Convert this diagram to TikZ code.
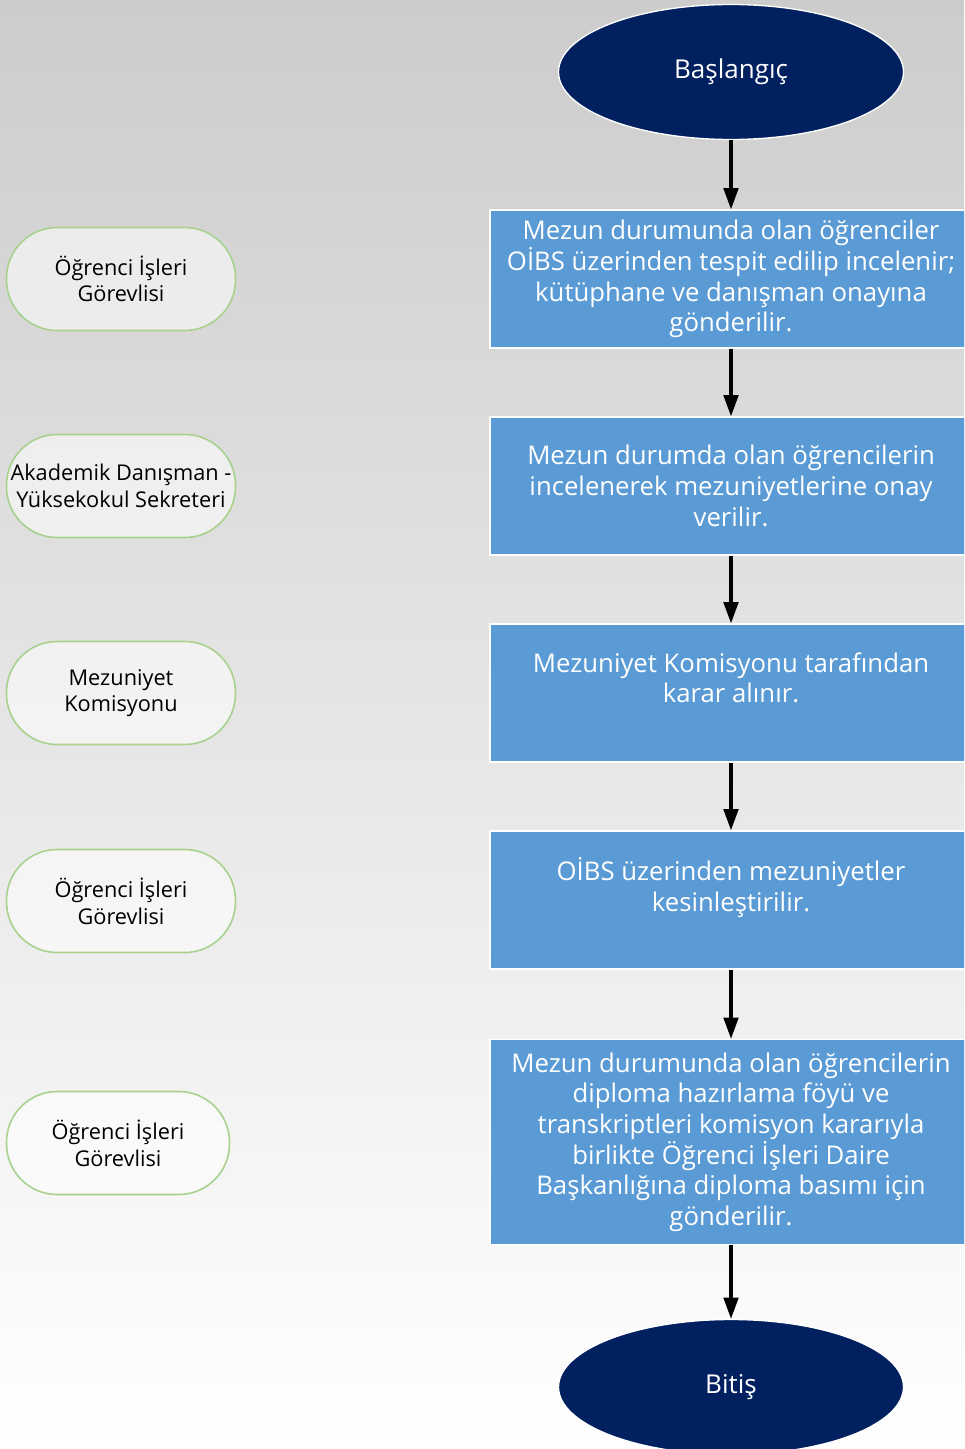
\documentclass[tikz,border=0pt]{standalone}
\usepackage{fontspec}
\setmainfont{Open Sans}
\usetikzlibrary{shapes.geometric, arrows.meta, positioning}
\definecolor{lacivert}{RGB}{0,32,96}
\definecolor{mavi}{RGB}{91,155,213}
\definecolor{yesil}{RGB}{169,209,142}
\definecolor{gri}{RGB}{204,204,204}

\begin{document}
\begin{tikzpicture}[x=0.75pt, y=-0.75pt,
  terminal/.style = {shape=ellipse, draw=white, line width=1pt,
    fill=lacivert, text=white, font=\fontsize{19.5}{23}\selectfont,
    minimum width=258.75pt, minimum height=101.25pt},
  islem/.style = {shape=rectangle, draw=white, line width=1pt,
    fill=mavi, text=white, align=center,
    font=\fontsize{19.3}{23}\selectfont,
    minimum width=361.5pt, minimum height=103.5pt, inner sep=0pt},
  rol/.style = {shape=rectangle, rounded corners=38pt, draw=yesil,
    line width=1.2pt, fill=white, fill opacity=0.55, text opacity=1,
    align=center, font=\fontsize{16.3}{20}\selectfont,
    minimum width=171.75pt, minimum height=77.25pt, inner sep=0pt},
  ok/.style = {line width=2.3pt, -{Triangle[length=16pt, width=11pt]}}]
  \useasboundingbox (0,0) rectangle (964,1449);
  \clip (0,0) rectangle (964,1449);
  \shade[top color=gri, bottom color=white] (0,0) rectangle (964,1449);

  % akis
  \node[terminal] (basla) at (731,72) {Başlangıç};
  \node[islem] (adim1) at (731,279) {Mezun durumunda olan öğrenciler\\
    OİBS üzerinden tespit edilip incelenir;\\
    kütüphane ve danışman onayına\\ gönderilir.};
  \node[islem] (adim2) at (731,486) {Mezun durumda olan öğrencilerin\\
    incelenerek mezuniyetlerine onay\\ verilir.};
  \node[islem] (adim3) at (731,693) {Mezuniyet Komisyonu tarafından\\
    karar alınır.\\ \mbox{}};
  \node[islem] (adim4) at (731,900) {OİBS üzerinden mezuniyetler\\
    kesinleştirilir.\\ \mbox{}};
  \node[islem, minimum height=153.75pt] (adim5) at (731,1142)
    {Mezun durumunda olan öğrencilerin\\ diploma hazırlama föyü ve\\
    transkriptleri komisyon kararıyla\\ birlikte Öğrenci İşleri Daire\\
    Başkanlığına diploma basımı için\\ gönderilir.};
  \node[terminal] (bitis) at (731,1387) {Bitiş};

  % sorumlular
  \node[rol] (rol1) at (121,279) {Öğrenci İşleri\\ Görevlisi};
  \node[rol] (rol2) at (121,486) {Akademik Danışman -\\ Yüksekokul Sekreteri};
  \node[rol] (rol3) at (121,693) {Mezuniyet\\ Komisyonu};
  \node[rol] (rol4) at (121,901) {Öğrenci İşleri\\ Görevlisi};
  \node[rol, minimum width=167.25pt] (rol5) at (118,1143) {Öğrenci İşleri\\ Görevlisi};

  \draw[ok] (basla) -- (adim1);
  \draw[ok] (adim1) -- (adim2);
  \draw[ok] (adim2) -- (adim3);
  \draw[ok] (adim3) -- (adim4);
  \draw[ok] (adim4) -- (adim5);
  \draw[ok] (adim5) -- (bitis);
\end{tikzpicture}
\end{document}
